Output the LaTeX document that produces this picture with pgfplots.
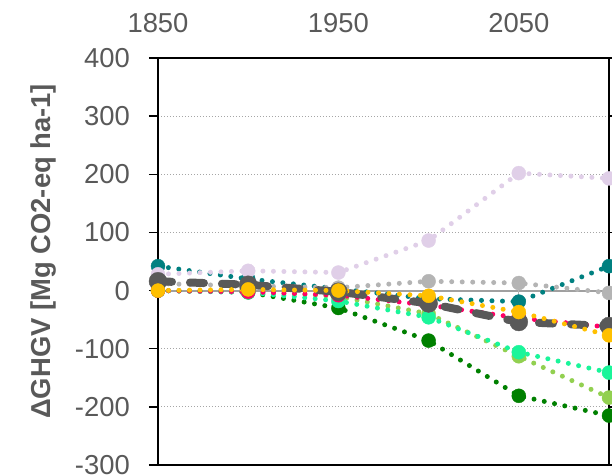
\documentclass[border=0pt]{standalone}
\usepackage{fontspec}
\setmainfont{Liberation Sans}
\usepackage{pgfplots}
\pgfplotsset{compat=1.18}
\definecolor{txt}{HTML}{595959}
\definecolor{gridc}{HTML}{A6A6A6}
\definecolor{zeroc}{HTML}{A0A0A0}
\definecolor{lav}{HTML}{E0CFE8}
\definecolor{teal}{HTML}{008080}
\definecolor{lgray}{HTML}{B4B4B4}
\definecolor{dgray}{HTML}{595959}
\definecolor{dgreen}{HTML}{008000}
\definecolor{lgreen}{HTML}{92D050}
\definecolor{sgreen}{HTML}{1AF59A}
\definecolor{pink}{HTML}{FF0066}
\definecolor{gold}{HTML}{FFC000}
\begin{document}
\begin{tikzpicture}
\begin{axis}[name=ax, scale only axis, width=451bp, height=407bp,
  xmin=1850, xmax=2100, ymin=-300, ymax=400,
  xtick={1850,1950,2050}, xticklabel pos=upper,
  x tick style={draw=none},
  ytick={-300,-200,...,400},
  y tick style={black, line width=1.5bp},
  tick align=outside, major tick length=9bp,
  ymajorgrids,
  grid style={dash pattern=on 1.5bp off 1.5bp, line width=1.2bp, color=gridc},
  axis line style={black, line width=2bp},
  ticklabel style={font=\fontsize{27.5}{33}\selectfont, text=txt},
  /pgf/number format/assume math mode=true,
  /pgf/number format/1000 sep={},
  xticklabel style={anchor=south, inner sep=0pt, yshift=16bp},
  yticklabel style={anchor=east, inner sep=0pt, xshift=-19bp},
  ylabel={ΔGHGV [Mg CO2-eq ha-1]},
  ylabel style={at={(axis description cs:-0.255,0.525)}, anchor=center,
    font=\fontsize{27.5}{33}\selectfont\bfseries, text=txt},
  clip=true,
  dotl/.style={line width=5bp, dash pattern=on 0pt off 10.5bp, line cap=round,
    mark=*, mark size=7bp, mark options={solid, line width=0.4bp, fill=#1, draw=#1}, color=#1},
]
\addplot[line width=2bp, zeroc] coordinates {(1850,0) (2100,0)};
\addplot[dotl=teal] coordinates {(1850,42) (1900,20) (1950,3) (2000,-14) (2050,-19) (2100,42)};
\addplot[dotl=lav] coordinates {(1850,28) (1900,34) (1950,31) (2000,86) (2050,202) (2100,193)};
\addplot[line width=1.2bp, lgray] coordinates {(2050,13) (2050,-16)};
\addplot[dotl=lgray] coordinates {(1850,12) (1900,8) (1950,5) (2000,16) (2050,13) (2100,-4)};
\addplot[dotl=dgreen] coordinates {(1850,0) (1900,-3) (1950,-30) (2000,-86) (2050,-181) (2100,-215)};
\addplot[dotl=lgreen] coordinates {(1850,0) (1900,-2) (1950,-10) (2000,-40) (2050,-113) (2100,-184)};
\addplot[dotl=sgreen] coordinates {(1850,0) (1900,-3) (1950,-18) (2000,-46) (2050,-106) (2100,-141)};
\addplot[dotl=pink] coordinates {(1850,0) (1900,-2) (1950,-8) (2000,-25) (2050,-47) (2100,-63)};
\addplot[dgray, line width=8bp, dash pattern=on 14bp off 18bp, line cap=round,
  mark=*, mark size=9bp, mark options={solid, line width=0.4bp, fill=dgray, draw=dgray}] coordinates {(1850,16) (1900,10) (1950,-2) (2000,-22) (2050,-54) (2100,-61)};
\addplot[dotl=gold] coordinates {(1850,0) (1900,2) (1950,0) (2000,-9) (2050,-37) (2100,-77)};
\end{axis}
\pgfresetboundingbox
\path[use as bounding box] ([xshift=-158bp,yshift=-11bp]ax.south west) rectangle ([xshift=3bp,yshift=58bp]ax.north east);
\end{tikzpicture}
\end{document}
